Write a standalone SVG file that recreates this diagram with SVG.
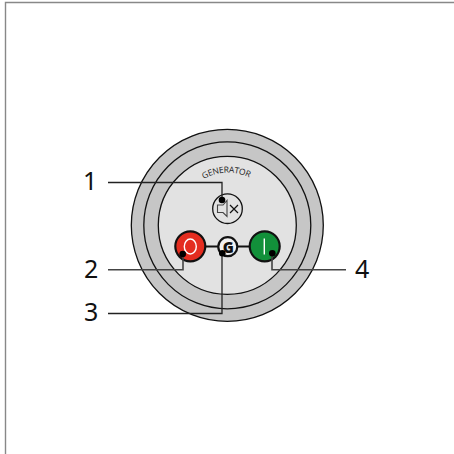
<svg xmlns="http://www.w3.org/2000/svg" width="454" height="454" viewBox="0 0 454 454">
<style>
.o{stroke:#111;stroke-width:1.3}
.b{stroke:#111;stroke-width:2.200}
.c{fill:none;stroke:#222;stroke-width:1.300}
.g{fill:none;stroke:#444;stroke-width:1.600}
.d{fill:#000}
.n{font-family:"Noto Sans","Open Sans",sans-serif;font-size:25px;fill:#111}
</style>
<rect width="454" height="454" fill="#fff"/>
<path d="M454 2.500H5.500V454" fill="none" stroke="#888" stroke-width="1.400"/>
<g id="panel">
<circle cx="227.300" cy="225.300" r="96" fill="#c6c6c6" class="o"/>
<circle cx="227.300" cy="225.300" r="83.500" fill="#c6c6c6" class="o"/>
<circle cx="227.300" cy="225.300" r="69" fill="#e2e2e2" class="o"/>
<path id="arc" d="M203.500 179Q228 166 253 179.500" fill="none"/>
<text font-family="'Open Sans','Noto Sans',sans-serif" font-size="8.500" fill="#222" letter-spacing="-0.2"><textPath href="#arc">GENERATOR</textPath></text>
</g>
<g id="links"><path d="M205 246.500H220M237 246.500H250" stroke="#111" stroke-width="2.200"/></g>
<g id="mute">
<circle cx="227.500" cy="208.700" r="14.800" fill="#e2e2e2" class="o"/>
<path d="M217.500 205H223L227 200.500V216.500L223 212.500H217.500Z" fill="none" stroke="#444" stroke-width="1.100"/>
<path d="M230 205L238 213M238 205L230 213" stroke="#111" stroke-width="1.200"/>
</g>
<g id="off">
<circle cx="190.300" cy="246.300" r="15" fill="#e42d20" class="b"/>
<ellipse cx="190.300" cy="246.500" rx="6" ry="7.500" fill="none" stroke="#fff" stroke-width="1.400"/>
</g>
<g id="gen">
<circle cx="227.800" cy="246.700" r="9.500" fill="#f2f2f2" class="b"/>
<text x="228.300" y="252.500" font-family="'Open Sans','Noto Sans',sans-serif" font-size="15" font-weight="800" text-anchor="middle" fill="#111">G</text>
</g>
<g id="on">
<circle cx="264.700" cy="246.300" r="15" fill="#12903a" class="b"/>
<path d="M264.300 238.500V254.500" stroke="#fff" stroke-width="1.400"/>
</g>
<g id="connectors">
<path class="c" d="M108 182.500H222V200"/>
<path class="g" d="M108 269.700H183V254"/>
<path class="c" d="M108 313.500H222V253"/>
<path class="g" d="M272 254V269.700H346"/>
<circle class="d" cx="222" cy="200" r="3.300"/>
<circle class="d" cx="182.700" cy="254" r="3.300"/>
<circle class="d" cx="222.300" cy="253.300" r="3.300"/>
<circle class="d" cx="272.300" cy="253.300" r="3.300"/>
</g>
<text class="n" x="83" y="190">1</text>
<text class="n" x="84" y="278">2</text>
<text class="n" x="84" y="321">3</text>
<text class="n" x="355" y="278">4</text>
</svg>
